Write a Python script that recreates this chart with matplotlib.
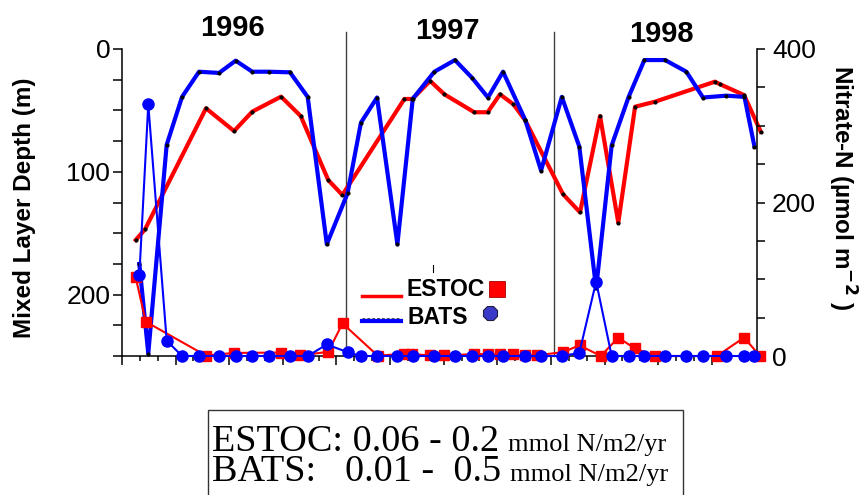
import numpy as np
import matplotlib.pyplot as plt
from matplotlib.lines import Line2D
from matplotlib.patches import Rectangle
from matplotlib.transforms import blended_transform_factory

plt.rcParams['font.family'] = ['Liberation Sans', 'DejaVu Sans']

# x = months since the start of the record
bats_x = [0.97, 1.47, 2.50, 3.36, 4.31, 5.43, 6.36, 7.29, 8.23, 9.40, 10.39, 11.46,
          12.62, 13.37, 14.27, 15.41, 16.27, 17.48, 18.63, 19.59, 20.48, 21.32, 22.57, 23.45,
          24.61, 25.59, 26.53, 27.40, 28.35, 29.23, 30.39, 31.58, 32.51, 33.82, 34.83, 35.39]
bats_mld = [175, 248, 78, 39, 18.5, 19.5, 9.5, 18.5, 18.5, 19, 39, 159,
            117.5, 60, 39.5, 159, 40.5, 18.5, 9, 23.5, 39.5, 18.5, 58, 99,
            39, 79.5, 195, 78.5, 39, 9, 9, 18.5, 39.5, 38, 39, 79.5]
bats_no3 = [105, 328, 20, 0, 0, 0, 0, 0, 0, 0, 0, 15,
            5, 0, 0, 0, 0, 0, 0, 0, 0, 0, 0, 0,
            0, 4, 97, 0, 0, 0, 0, 0, 0, 0, 0, 0]

estoc_x = [0.77, 1.29, 4.70, 6.27, 7.29, 8.90, 10.00, 11.54, 12.33, 15.80, 16.25, 17.24,
           18.04, 19.71, 20.46, 21.15, 21.90, 22.55, 24.68, 25.63, 26.75, 27.77, 28.71, 29.83,
           33.18, 33.46, 34.81, 35.74]
estoc_mld = [155.5, 146.8, 48.3, 66.8, 51, 38.8, 54.6, 106.7, 118.9, 40.7, 40.7, 26,
             36.9, 51.5, 51.5, 36.9, 45, 57.8, 118.3, 133, 54.6, 141.4, 47, 42.9,
             26.6, 28.7, 37.5, 67.3]

estoc_no3_x = [0.76, 1.33, 4.70, 6.24, 8.90, 9.96, 11.54, 12.34, 14.31, 15.80, 16.25, 17.24,
               18.04, 19.71, 20.46, 21.15, 21.90, 22.55, 23.22, 24.68, 25.60, 26.79, 27.77, 28.68,
               29.83, 33.29, 34.81, 35.70]
estoc_no3 = [103, 44.7, 0.5, 4, 4.5, 0.7, 5.5, 42.5, 0.4, 3, 2.5, 0.7,
             0.7, 2.5, 2.5, 2, 2, 0.7, 1, 5, 14, 0, 24, 10,
             0, 0, 24, 0]

year_breaks = [12.52, 24.19]
years = ['1996', '1997', '1998']
year_x = [6.18, 18.19, 30.16]

flux_site = ['ESTOC: 0.06 - 0.2', 'BATS:   0.01 -  0.5']
flux_unit = 'mmol N/m2/yr'

RED = '#ff0000'
BLUE = '#0000ff'

W, H = 862, 495
def fx(px):
    return px / W
def fy(py):
    return 1 - py / H

fig = plt.figure(figsize=(8.62, 4.95), dpi=100)
ax = fig.add_axes([fx(122), fy(356), (757.5 - 122) / W, (356 - 49) / H])
ax.set_xlim(0, 35.56)
ax.set_ylim(250, 0)

# mixed layer depth (left axis)
ax.plot(estoc_x, estoc_mld, color=RED, lw=3, clip_on=False, zorder=3)
ax.plot(estoc_x, estoc_mld, 'o', color='k', ms=2, clip_on=False, zorder=4)
ax.plot(bats_x, bats_mld, color=BLUE, lw=3, clip_on=False, zorder=3)
ax.plot(bats_x, bats_mld, 'o', color='k', ms=2, clip_on=False, zorder=4)

for xb in year_breaks:
    ax.axvline(xb, ymin=0, ymax=1.055, color='0.25', lw=1, clip_on=False, zorder=2)

ax.set_yticks(np.arange(0, 251, 25))
ax.set_yticklabels([str(v) if v % 100 == 0 else '' for v in range(0, 251, 25)])
ax.set_xticks(np.arange(0, 34, 3))
ax.set_xticks(np.arange(0, 36, 1), minor=True)
ax.set_xticklabels([])
ax.tick_params(axis='y', direction='out', length=6.5, width=1.1, labelsize=19, pad=2)
ax.tick_params(axis='x', which='major', direction='out', length=6.5, width=1.1)
ax.tick_params(axis='x', which='minor', direction='out', length=3.6, width=1.1)
for s in ['top', 'right']:
    ax.spines[s].set_visible(False)
for s in ['left', 'bottom']:
    ax.spines[s].set_linewidth(1.1)

# nitrate (right axis)
ax2 = ax.twinx()
ax2.set_ylim(0, 400)
ax2.plot(estoc_no3_x, estoc_no3, color=RED, lw=1.5, marker='s', ms=7.5,
         mec=RED, mfc=RED, clip_on=False, zorder=3)
ax2.plot(bats_x, bats_no3, color=BLUE, lw=1.5, marker='o', ms=8,
         mec=BLUE, mfc=BLUE, clip_on=False, zorder=4)
ax2.set_yticks(np.arange(0, 401, 50))
ax2.set_yticklabels([str(v) if v % 200 == 0 else '' for v in range(0, 401, 50)])
ax2.tick_params(axis='y', direction='out', length=6, width=1.1, labelsize=19, pad=4.5)
for s in ['top', 'left', 'bottom']:
    ax2.spines[s].set_visible(False)
ax2.spines['right'].set_linewidth(1.1)

# axis titles
fig.text(fx(25), fy(208), 'Mixed Layer Depth (m)', rotation=90, fontsize=17.5,
         fontweight='bold', ha='center', va='center')
fig.text(fx(842), fy(188), 'Nitrate-N (µmol m$^{\\mathbf{-2}}$ )', rotation=270,
         fontsize=17.5, fontweight='bold', ha='center', va='center')

# year labels above the panels
trans = blended_transform_factory(ax.transData, fig.transFigure)
for yr, xx, py in zip(years, year_x, [28, 31, 34]):
    ax.text(xx, fy(py), yr, transform=trans, fontsize=21, fontweight='bold',
            ha='center', va='center')

# hand drawn legend
fig.add_artist(Line2D([fx(362), fx(401)], [fy(296), fy(296)], color=RED, lw=2.5))
fig.text(fx(407), fy(289), 'ESTOC', fontsize=16.5, fontweight='bold', va='center')
fig.add_artist(Line2D([fx(497)], [fy(289)], marker='s', ms=11.5, color=RED,
                      mec='#aa0000', mew=0.6, ls='none'))
fig.add_artist(Line2D([fx(362), fx(401)], [fy(321), fy(321)], color=BLUE, lw=3))
fig.add_artist(Line2D([fx(362), fx(401)], [fy(318), fy(318)], color='0.3', lw=0.7,
                      ls=(0, (3, 2))))
fig.text(fx(408), fy(317), 'BATS', fontsize=16.5, fontweight='bold', va='center')
fig.add_artist(Line2D([fx(490)], [fy(313)], marker='8', ms=11, color='#3a3ac8',
                      mec='#202040', mew=0.8, ls='none'))
fig.add_artist(Line2D([fx(433), fx(433)], [fy(265), fy(272)], color='k', lw=0.8))

# flux box
fig.add_artist(Rectangle((fx(208), -0.05), (683 - 208) / W, fy(410) + 0.05,
                         fill=False, ec='0.2', lw=1))
serif = ['Liberation Serif', 'DejaVu Serif']
renderer = fig.canvas.get_renderer()
for site, py in zip(flux_site, [451, 481]):
    t = fig.text(fx(212), fy(py), site, family=serif, fontsize=27.5, va='baseline')
    x1 = t.get_window_extent(renderer).x1
    fig.text((x1 + 9) / W, fy(py), flux_unit, family=serif, fontsize=19, va='baseline')

fig.savefig('out.png', dpi=100)
